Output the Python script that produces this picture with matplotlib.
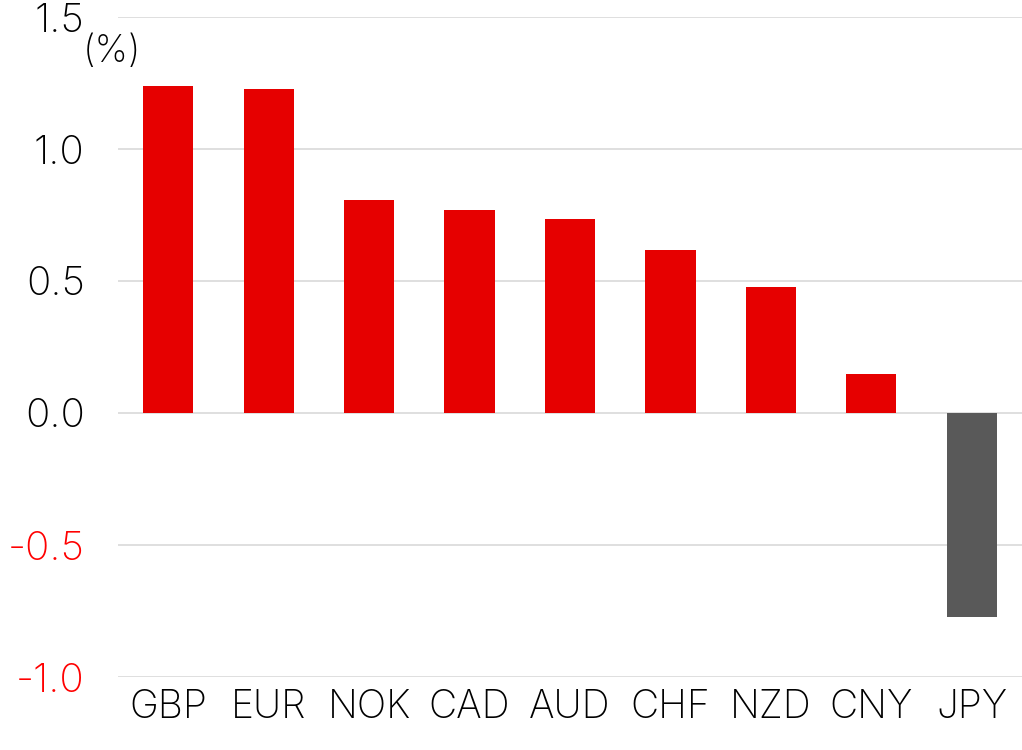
import matplotlib
matplotlib.use("Agg")
import matplotlib.pyplot as plt

plt.rcParams['font.family'] = ['Inter', 'DejaVu Sans']

categories = ["GBP", "EUR", "NOK", "CAD", "AUD", "CHF", "NZD", "CNY", "JPY"]
values = [1.239, 1.227, 0.807, 0.769, 0.735, 0.617, 0.477, 0.148, -0.773]
yticks = [-1.0, -0.5, 0.0, 0.5, 1.0, 1.5]
ytick_labels = ["-1.0", "-0.5", "0.0", "0.5", "1.0", "1.5"]

fig = plt.figure(figsize=(10.22, 7.5), dpi=100)
ax = fig.add_axes([118/1022, 1 - 677/750, (1022-118)/1022, (677-17)/750])

colors = ["#e60000" if v >= 0 else "#595959" for v in values]
x = range(len(categories))
ax.bar(x, values, width=0.5, color=colors, zorder=3)

ax.set_xlim(-0.5, len(categories) - 0.5)
ax.set_ylim(-1.0, 1.5)
ax.set_yticks(yticks)
ax.set_yticklabels(ytick_labels, fontsize=29, fontweight='light')
for lbl, v in zip(ax.get_yticklabels(), yticks):
    lbl.set_color("#ff0000" if v < 0 else "#000000")
ax.set_xticks(list(x))
ax.set_xticklabels(categories, fontsize=28, fontweight='light')
ax.tick_params(axis='both', length=0)
ax.tick_params(axis='x', pad=9)
ax.tick_params(axis='y', pad=24)
ax.grid(axis='y', color='#d9d9d9', linewidth=1.2, zorder=0)
for s in ax.spines.values():
    s.set_visible(False)

fig.text(83/1022, 1 - 52/750, "(%)", fontsize=27, va='center', ha='left', fontweight='light')

fig.savefig("out.png", dpi=100)
